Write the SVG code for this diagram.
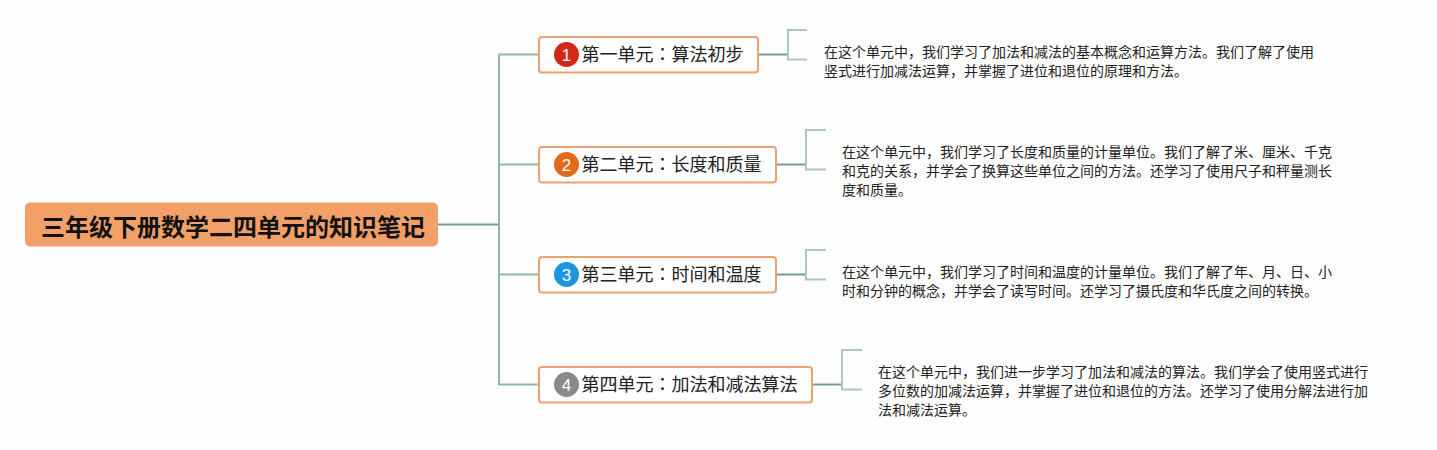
<svg xmlns="http://www.w3.org/2000/svg" width="1437" height="450" viewBox="0 0 1437 450">
<style>
.bg{fill:#fefefe}
.root{fill:#f2a068}
.roott{font-family:"Noto Sans CJK SC","Noto Sans CJK JP",sans-serif;font-size:24px;font-weight:bold;fill:#111}
.node{fill:#fff;stroke:#eda070;stroke-width:2}
.nt{font-family:"Noto Sans CJK JP","Noto Sans CJK SC",sans-serif;font-size:18px;fill:#222}
.num{font-family:"Liberation Sans","Noto Sans",sans-serif;font-size:17px;fill:#fff;text-anchor:middle}
.desc{font-family:"Noto Sans CJK SC","Noto Sans CJK JP",sans-serif;font-size:14px;fill:#222}
.c1{fill:none;stroke:#6e9f8f;stroke-width:2}
.c2{fill:none;stroke:#8cb8aa;stroke-width:2}
.br{fill:none;stroke:#a9c8be;stroke-width:2}
</style>
<rect class="bg" x="0" y="0" width="1437" height="450"/>
<g id="connectors">
<path class="c1" d="M438,224.5 H499"/>
<path class="c2" d="M539,54.5 H499 V384.5 H539"/>
<path class="c2" d="M499,164.5 H539"/>
<path class="c2" d="M499,274.5 H539"/>
<path class="c1" d="M758,54.5 H788"/>
<path class="br" d="M807,30 H788 V59.5 H807"/>
<path class="c1" d="M776,164.5 H806"/>
<path class="br" d="M826,130 H806 V169.5 H826"/>
<path class="c1" d="M776,274.5 H806"/>
<path class="br" d="M826,250 H806 V279.5 H826"/>
<path class="c1" d="M812,384.5 H842"/>
<path class="br" d="M862,350 H842 V389.5 H862"/>
</g>
<g id="root">
<rect class="root" x="25" y="202.5" width="413" height="44" rx="5"/>
<text class="roott" x="41" y="236">三年级下册数学二四单元的知识笔记</text>
</g>
<g id="node1">
<rect class="node" x="539" y="37" width="219" height="35.5" rx="3"/>
<circle cx="566.5" cy="54.5" r="12.5" fill="#d3261a"/>
<text class="num" x="566.5" y="60.5">1</text>
<text class="nt" x="581.5" y="61">第一单元：算法初步</text>
</g>
<g id="node2">
<rect class="node" x="539" y="147" width="237" height="35.5" rx="3"/>
<circle cx="566.5" cy="164.5" r="12.5" fill="#e4691a"/>
<text class="num" x="566.5" y="170.5">2</text>
<text class="nt" x="581.5" y="171">第二单元：长度和质量</text>
</g>
<g id="node3">
<rect class="node" x="539" y="257" width="237" height="35.5" rx="3"/>
<circle cx="566.5" cy="274.5" r="12.5" fill="#1c96dd"/>
<text class="num" x="566.5" y="280.5">3</text>
<text class="nt" x="581.5" y="281">第三单元：时间和温度</text>
</g>
<g id="node4">
<rect class="node" x="539" y="367" width="273" height="35.5" rx="3"/>
<circle cx="566.5" cy="384.5" r="12.5" fill="#8a8a8a"/>
<text class="num" x="566.5" y="390.5">4</text>
<text class="nt" x="581.5" y="391">第四单元：加法和减法算法</text>
</g>
<g id="desc1">
<text class="desc" x="824" y="57.3">在这个单元中，我们学习了加法和减法的基本概念和运算方法。我们了解了使用</text>
<text class="desc" x="824" y="75.9">竖式进行加减法运算，并掌握了进位和退位的原理和方法。</text>
</g>
<g id="desc2">
<text class="desc" x="842" y="157.3">在这个单元中，我们学习了长度和质量的计量单位。我们了解了米、厘米、千克</text>
<text class="desc" x="842" y="175.9">和克的关系，并学会了换算这些单位之间的方法。还学习了使用尺子和秤量测长</text>
<text class="desc" x="842" y="194.5">度和质量。</text>
</g>
<g id="desc3">
<text class="desc" x="842" y="277.3">在这个单元中，我们学习了时间和温度的计量单位。我们了解了年、月、日、小</text>
<text class="desc" x="842" y="295.9">时和分钟的概念，并学会了读写时间。还学习了摄氏度和华氏度之间的转换。</text>
</g>
<g id="desc4">
<text class="desc" x="878" y="377.3">在这个单元中，我们进一步学习了加法和减法的算法。我们学会了使用竖式进行</text>
<text class="desc" x="878" y="395.9">多位数的加减法运算，并掌握了进位和退位的方法。还学习了使用分解法进行加</text>
<text class="desc" x="878" y="414.5">法和减法运算。</text>
</g>
</svg>
